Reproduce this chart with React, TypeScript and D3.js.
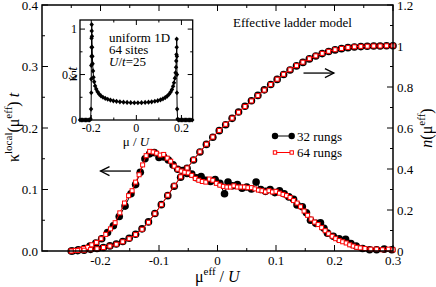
import * as d3 from 'd3';

// n(mu) curves, main panel (right axis)
const MU_N = [-0.25, -0.239, -0.228, -0.217, -0.206, -0.195, -0.184, -0.173, -0.162, -0.151, -0.14, -0.129, -0.118, -0.107, -0.096, -0.085, -0.074, -0.063, -0.052, -0.041, -0.03, -0.019, -0.008, 0.003, 0.014, 0.025, 0.036, 0.047, 0.058, 0.069, 0.08, 0.091, 0.102, 0.113, 0.124, 0.135, 0.146, 0.157, 0.168, 0.179, 0.19, 0.201, 0.212, 0.223, 0.234, 0.245, 0.256, 0.267, 0.278, 0.289, 0.3];
const N_32 = [0.0, 0.002, 0.004, 0.008, 0.012, 0.017, 0.025, 0.034, 0.046, 0.062, 0.082, 0.108, 0.142, 0.183, 0.226, 0.27, 0.316, 0.36, 0.403, 0.444, 0.483, 0.52, 0.555, 0.587, 0.616, 0.647, 0.678, 0.706, 0.733, 0.759, 0.786, 0.812, 0.837, 0.861, 0.883, 0.903, 0.92, 0.937, 0.951, 0.963, 0.973, 0.981, 0.987, 0.992, 0.995, 0.997, 0.999, 1.0, 1.0, 1.001, 1.001];
const N_64 = [0.0, 0.002, 0.004, 0.007, 0.011, 0.017, 0.024, 0.033, 0.045, 0.06, 0.08, 0.106, 0.14, 0.182, 0.226, 0.272, 0.318, 0.362, 0.405, 0.445, 0.484, 0.521, 0.556, 0.588, 0.618, 0.648, 0.677, 0.705, 0.732, 0.758, 0.785, 0.812, 0.838, 0.862, 0.884, 0.904, 0.921, 0.938, 0.952, 0.964, 0.974, 0.982, 0.988, 0.993, 0.996, 0.998, 0.999, 1.0, 1.0, 1.001, 1.001];

// local compressibility, main panel (left axis)
const MU_K64 = [-0.25, -0.243, -0.236, -0.229, -0.222, -0.215, -0.207, -0.199, -0.191, -0.183, -0.175, -0.167, -0.159, -0.152, -0.146, -0.14, -0.134, -0.128, -0.122, -0.116, -0.11, -0.104, -0.098, -0.092, -0.086, -0.08, -0.074, -0.068, -0.062, -0.056, -0.05, -0.044, -0.038, -0.032, -0.026, -0.02, -0.014, -0.008, -0.002, 0.004, 0.01, 0.016, 0.022, 0.028, 0.034, 0.04, 0.046, 0.052, 0.058, 0.064, 0.07, 0.076, 0.082, 0.088, 0.094, 0.1, 0.106, 0.112, 0.118, 0.124, 0.13, 0.136, 0.142, 0.148, 0.154, 0.16, 0.166, 0.172, 0.178, 0.184, 0.19, 0.196, 0.202, 0.208, 0.214, 0.22, 0.226, 0.232, 0.238, 0.244, 0.252, 0.262, 0.272, 0.282, 0.292, 0.3];
const K_64 = [0.0, 0.001, 0.002, 0.004, 0.006, 0.01, 0.014, 0.02, 0.027, 0.036, 0.046, 0.062, 0.078, 0.09, 0.098, 0.112, 0.124, 0.14, 0.155, 0.162, 0.161, 0.159, 0.156, 0.157, 0.151, 0.146, 0.138, 0.133, 0.13, 0.128, 0.127, 0.123, 0.118, 0.115, 0.113, 0.112, 0.117, 0.115, 0.11, 0.107, 0.105, 0.104, 0.104, 0.106, 0.104, 0.104, 0.104, 0.103, 0.103, 0.101, 0.099, 0.098, 0.096, 0.098, 0.096, 0.097, 0.094, 0.092, 0.09, 0.087, 0.082, 0.078, 0.072, 0.065, 0.058, 0.052, 0.047, 0.043, 0.038, 0.033, 0.028, 0.024, 0.02, 0.017, 0.015, 0.013, 0.01, 0.008, 0.006, 0.005, 0.004, 0.003, 0.003, 0.002, 0.003, 0.002];
const MU_K32 = [-0.248, -0.238, -0.228, -0.218, -0.208, -0.198, -0.188, -0.178, -0.168, -0.158, -0.148, -0.14, -0.132, -0.124, -0.116, -0.108, -0.1, -0.092, -0.084, -0.076, -0.068, -0.06, -0.052, -0.044, -0.036, -0.028, -0.02, -0.012, -0.004, 0.004, 0.012, 0.018, 0.026, 0.034, 0.042, 0.05, 0.058, 0.066, 0.074, 0.082, 0.09, 0.098, 0.106, 0.114, 0.122, 0.13, 0.136, 0.145, 0.152, 0.159, 0.168, 0.176, 0.182, 0.188, 0.198, 0.208, 0.219, 0.228, 0.237, 0.248, 0.26, 0.272, 0.285, 0.298];
const K_32 = [0.0, 0.002, 0.004, 0.008, 0.013, 0.02, 0.03, 0.041, 0.056, 0.073, 0.093, 0.108, 0.128, 0.15, 0.158, 0.16, 0.152, 0.153, 0.148, 0.14, 0.133, 0.131, 0.126, 0.125, 0.119, 0.121, 0.115, 0.113, 0.116, 0.11, 0.093, 0.112, 0.106, 0.108, 0.102, 0.104, 0.101, 0.112, 0.1, 0.097, 0.1, 0.095, 0.098, 0.093, 0.088, 0.084, 0.075, 0.072, 0.062, 0.05, 0.045, 0.046, 0.037, 0.029, 0.024, 0.02, 0.019, 0.012, 0.008, 0.004, 0.002, 0.002, 0.003, 0.002];

// inset: uniform 1D, 64 sites
const MU_IN = [-0.25, -0.244, -0.238, -0.232, -0.226, -0.22, -0.214, -0.208, -0.203, -0.201, -0.2, -0.2, -0.2, -0.199, -0.199, -0.199, -0.198, -0.198, -0.197, -0.196, -0.195, -0.194, -0.192, -0.19, -0.187, -0.183, -0.178, -0.172, -0.165, -0.157, -0.148, -0.138, -0.127, -0.115, -0.102, -0.088, -0.073, -0.057, -0.041, -0.025, -0.009, 0.007, 0.023, 0.039, 0.054, 0.068, 0.082, 0.095, 0.107, 0.118, 0.128, 0.137, 0.145, 0.152, 0.158, 0.163, 0.167, 0.171, 0.174, 0.176, 0.177, 0.178, 0.179, 0.179, 0.18, 0.18, 0.18, 0.181, 0.183, 0.188, 0.194, 0.2, 0.206, 0.212, 0.218, 0.224, 0.23, 0.236, 0.242, 0.248];
const K_IN = [0, 0, 0, 0, 0, 0, 0, 0, 0.01, 0.12, 0.3, 0.45, 0.6, 0.7, 0.8, 0.9, 0.98, 1.05, 0.92, 0.8, 0.7, 0.62, 0.54, 0.47, 0.42, 0.375, 0.34, 0.31, 0.285, 0.265, 0.25, 0.238, 0.228, 0.219, 0.211, 0.205, 0.2, 0.196, 0.193, 0.191, 0.19, 0.19, 0.191, 0.193, 0.196, 0.2, 0.206, 0.213, 0.222, 0.233, 0.247, 0.263, 0.283, 0.307, 0.335, 0.37, 0.41, 0.46, 0.52, 0.58, 0.65, 0.72, 0.8, 0.89, 0.7, 0.5, 0.3, 0.12, 0.01, 0, 0, 0, 0, 0, 0, 0, 0, 0, 0, 0];

const X_TICKS = [-0.2, -0.1, 0, 0.1, 0.2, 0.3];
const YL_TICKS = [0, 0.1, 0.2, 0.3, 0.4];
const YL_LABELS = ['0.0', '0.1', '0.2', '0.3', '0.4'];
const YR_TICKS = [0, 0.2, 0.4, 0.6, 0.8, 1, 1.2];
const XI_TICKS = [-0.2, 0, 0.2];
const YI_TICKS = [0, 0.5, 1];

const FONT = 'Liberation Serif, Times New Roman, serif';
const RED = '#ff0000';

type P = [number, number];
const zip = (a: number[], b: number[]): P[] => a.map((v, i) => [v, b[i]]);

export default function App() {
  const L = 42, R = 393, T = 5, B = 251;
  const x = d3.scaleLinear().domain([-0.3, 0.3]).range([L, R]);
  const yL = d3.scaleLinear().domain([0, 0.4]).range([B, T]);
  const yR = d3.scaleLinear().domain([0, 1.2]).range([B, T]);

  const iL = 80, iR = 192.7, iT = 20, iB = 120;
  const xi = d3.scaleLinear().domain([-0.25, 0.25]).range([iL, iR]);
  const yi = d3.scaleLinear().domain([0, 1.1]).range([iB, iT]);

  const line = (sx: d3.ScaleLinear<number, number>, sy: d3.ScaleLinear<number, number>) =>
    d3.line<P>().x((d) => sx(d[0])).y((d) => sy(d[1]));

  const k32 = zip(MU_K32, K_32);
  const k64 = zip(MU_K64, K_64);
  const n32 = zip(MU_N, N_32);
  const n64 = zip(MU_N, N_64);
  const kin = zip(MU_IN, K_IN);

  const xMinor = d3.range(-0.25, 0.3, 0.1);
  const ylMinor = d3.range(0.05, 0.4, 0.1);
  const yrMinor = d3.range(0.1, 1.2, 0.2);
  const xiMinor = [-0.1, 0.1];
  const yiMinor = [0.25, 0.75];

  const circles = (d: P[], sy: d3.ScaleLinear<number, number>) =>
    d.map((p, i) => <circle key={i} cx={x(p[0])} cy={sy(p[1])} r={3.8} fill="#000" />);
  const squares = (d: P[], sy: d3.ScaleLinear<number, number>) =>
    d.map((p, i) => (
      <rect key={i} x={x(p[0]) - 2} y={sy(p[1]) - 2} width={4} height={4} fill="#fff" stroke={RED} strokeWidth={1} />
    ));

  const tk = (key: string, x1: number, y1: number, x2: number, y2: number) => (
    <line key={key} x1={x1} y1={y1} x2={x2} y2={y2} stroke="#000" strokeWidth={1} />
  );

  // arrows in data coordinates
  const la = { x1: x(-0.148), x2: x(-0.2), y: yL(0.13) };
  const ra = { x1: x(0.147), x2: x(0.199), y: yR(0.868) };

  return (
    <svg width={436} height={287} style={{ position: 'absolute', left: 0, top: 0, background: '#fff', fontFamily: FONT }}>
      {/* main ticks */}
      {X_TICKS.map((v) => [tk('xb' + v, x(v), B, x(v), B - 6), tk('xt' + v, x(v), T, x(v), T + 6)])}
      {xMinor.map((v) => [tk('xbm' + v, x(v), B, x(v), B - 3), tk('xtm' + v, x(v), T, x(v), T + 3)])}
      {YL_TICKS.map((v) => tk('yl' + v, L, yL(v), L + 6, yL(v)))}
      {ylMinor.map((v) => tk('ylm' + v, L, yL(v), L + 3, yL(v)))}
      {YR_TICKS.map((v) => tk('yr' + v, R, yR(v), R - 6, yR(v)))}
      {yrMinor.map((v) => tk('yrm' + v, R, yR(v), R - 3, yR(v)))}

      {/* tick labels */}
      <g fontSize={13} fill="#000">
        {X_TICKS.map((v) => (
          <text key={v} x={x(v)} y={265} textAnchor="middle">{v === 0 ? '0' : String(v)}</text>
        ))}
        {YL_TICKS.map((v, i) => (
          <text key={v} x={L - 4} y={yL(v) + 4.5} textAnchor="end">{YL_LABELS[i]}</text>
        ))}
        {YR_TICKS.map((v) => (
          <text key={v} x={R + 4} y={yR(v) + 4.5} textAnchor="start">{String(v)}</text>
        ))}
      </g>

      {/* data: 32 rungs */}
      <path d={line(x, yL)(k32) ?? ''} fill="none" stroke="#000" strokeWidth={1} />
      <path d={line(x, yR)(n32) ?? ''} fill="none" stroke="#000" strokeWidth={1} />
      {circles(k32, yL)}
      {circles(n32, yR)}
      {/* data: 64 rungs */}
      <path d={line(x, yL)(k64) ?? ''} fill="none" stroke={RED} strokeWidth={1} />
      <path d={line(x, yR)(n64) ?? ''} fill="none" stroke={RED} strokeWidth={1} />
      {squares(k64, yL)}
      {squares(n64, yR)}

      {/* frame */}
      <rect x={L} y={T} width={R - L} height={B - T} fill="none" stroke="#000" strokeWidth={1.5} />

      {/* arrows */}
      <g stroke="#000" strokeWidth={1.3} fill="none">
        <line x1={la.x1} y1={la.y} x2={la.x2} y2={la.y} />
        <polyline points={`${la.x2 + 9},${la.y - 4.5} ${la.x2},${la.y} ${la.x2 + 9},${la.y + 4.5}`} />
        <line x1={ra.x1} y1={ra.y} x2={ra.x2} y2={ra.y} />
        <polyline points={`${ra.x2 - 9},${ra.y - 4.5} ${ra.x2},${ra.y} ${ra.x2 - 9},${ra.y + 4.5}`} />
      </g>

      <text x={233} y={27} fontSize={13}>Effective ladder model</text>

      {/* legend */}
      <g>
        <line x1={275} y1={136} x2={291.7} y2={136} stroke="#000" strokeWidth={1} />
        <circle cx={275} cy={136} r={3.2} fill="#000" />
        <circle cx={291.7} cy={136} r={3.2} fill="#000" />
        <text x={297} y={140.5} fontSize={13}>32 rungs</text>
        <line x1={275} y1={152.5} x2={291.7} y2={152.5} stroke={RED} strokeWidth={1} />
        <rect x={273.3} y={150.8} width={3.4} height={3.4} fill="#fff" stroke={RED} />
        <rect x={290} y={150.8} width={3.4} height={3.4} fill="#fff" stroke={RED} />
        <text x={297} y={157} fontSize={13}>64 rungs</text>
      </g>

      {/* axis titles */}
      <text x={195} y={282} fontSize={16} textAnchor="start">
        μ<tspan dy={-7} fontSize={11}>eff</tspan><tspan dy={7}> / </tspan><tspan fontStyle="italic">U</tspan>
      </text>
      <text transform="translate(19,162) rotate(-90)" fontSize={16} textAnchor="start">
        κ<tspan dy={-7} fontSize={11}>local</tspan><tspan dy={7}>(μ</tspan><tspan dy={-7} fontSize={11}>eff</tspan><tspan dy={7}>) </tspan><tspan fontStyle="italic">t</tspan>
      </text>
      <text transform="translate(432,128) rotate(-90)" fontSize={16} textAnchor="middle">
        <tspan fontStyle="italic">n</tspan>(μ<tspan dy={-7} fontSize={11}>eff</tspan><tspan dy={7}>)</tspan>
      </text>

      {/* inset */}
      <rect x={iL} y={iT} width={iR - iL} height={iB - iT} fill="#fff" />
      {XI_TICKS.map((v) => [tk('ib' + v, xi(v), iB, xi(v), iB - 5), tk('it' + v, xi(v), iT, xi(v), iT + 5)])}
      {xiMinor.map((v) => [tk('ibm' + v, xi(v), iB, xi(v), iB - 2.5), tk('itm' + v, xi(v), iT, xi(v), iT + 2.5)])}
      {YI_TICKS.map((v) => [tk('il' + v, iL, yi(v), iL + 5, yi(v)), tk('ir' + v, iR, yi(v), iR - 5, yi(v))])}
      {yiMinor.map((v) => [tk('ilm' + v, iL, yi(v), iL + 2.5, yi(v)), tk('irm' + v, iR, yi(v), iR - 2.5, yi(v))])}
      <path d={line(xi, yi)(kin) ?? ''} fill="none" stroke="#000" strokeWidth={1} />
      {kin.map((p, i) => {
        const cx = xi(p[0]), cy = yi(p[1]);
        return <path key={i} d={`M${cx},${cy - 2.6}L${cx + 2.2},${cy}L${cx},${cy + 2.6}L${cx - 2.2},${cy}Z`} fill="#000" />;
      })}
      <rect x={iL} y={iT} width={iR - iL} height={iB - iT} fill="none" stroke="#000" strokeWidth={1.3} />
      <g fontSize={12}>
        {XI_TICKS.map((v) => (
          <text key={v} x={xi(v)} y={132} textAnchor="middle">{v === 0 ? '0' : String(v)}</text>
        ))}
        {YI_TICKS.map((v) => (
          <text key={v} x={iL - 3} y={yi(v) + 4} textAnchor="end">{String(v)}</text>
        ))}
      </g>
      <text x={136} y={146} fontSize={13} textAnchor="middle">μ / <tspan fontStyle="italic">U</tspan></text>
      <text transform="translate(77,74) rotate(-90)" fontSize={14} textAnchor="middle">
        κ <tspan fontStyle="italic">t</tspan>
      </text>
      <g fontSize={13}>
        <text x={109} y={42}>uniform 1D</text>
        <text x={109} y={54}>64 sites</text>
        <text x={109} y={66}><tspan fontStyle="italic">U</tspan>/<tspan fontStyle="italic">t</tspan>=25</text>
      </g>
    </svg>
  );
}
